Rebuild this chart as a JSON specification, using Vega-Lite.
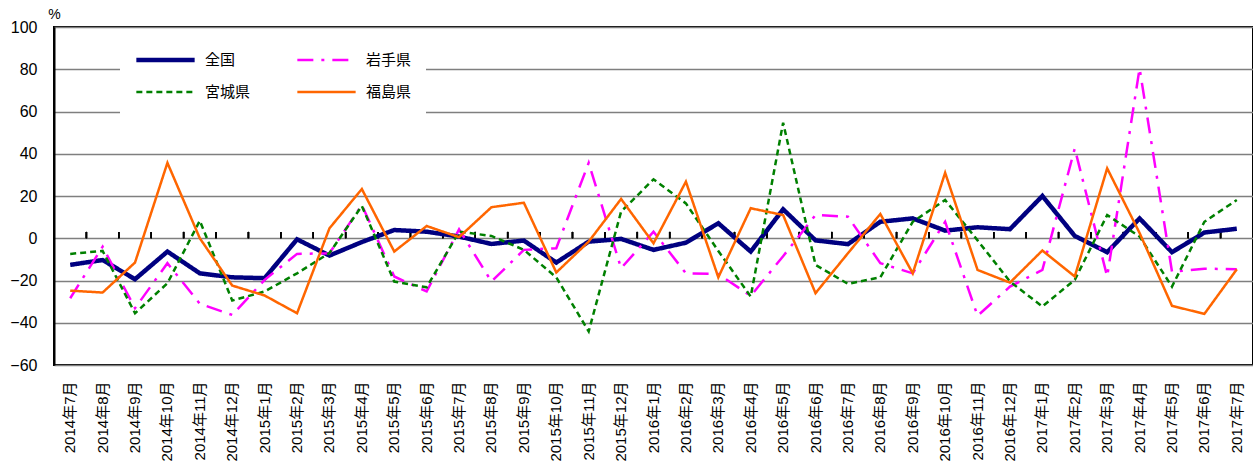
{
  "$schema": "https://vega.github.io/schema/vega-lite/v6.json",
  "autosize": "none",
  "width": 1199,
  "height": 338,
  "padding": {"left": 54, "top": 27, "right": 0, "bottom": 96},
  "background": "white",
  "config": {
    "view": {"stroke": "black", "strokeWidth": 2},
    "font": "'Liberation Sans', 'Noto Sans CJK JP', sans-serif"
  },
  "datasets": {
    "d": [
      {"m":"2014年7月","s":"全国","v":-12.6},{"m":"2014年8月","s":"全国","v":-10.3},{"m":"2014年9月","s":"全国","v":-19.4},{"m":"2014年10月","s":"全国","v":-6.3},{"m":"2014年11月","s":"全国","v":-16.6},{"m":"2014年12月","s":"全国","v":-18.5},
      {"m":"2015年1月","s":"全国","v":-18.9},{"m":"2015年2月","s":"全国","v":-0.5},{"m":"2015年3月","s":"全国","v":-8.2},{"m":"2015年4月","s":"全国","v":-1.8},{"m":"2015年5月","s":"全国","v":3.9},{"m":"2015年6月","s":"全国","v":3.1},
      {"m":"2015年7月","s":"全国","v":0.8},{"m":"2015年8月","s":"全国","v":-2.7},{"m":"2015年9月","s":"全国","v":-1.1},{"m":"2015年10月","s":"全国","v":-11.5},{"m":"2015年11月","s":"全国","v":-1.6},{"m":"2015年12月","s":"全国","v":-0.3},
      {"m":"2016年1月","s":"全国","v":-5.5},{"m":"2016年2月","s":"全国","v":-2.1},{"m":"2016年3月","s":"全国","v":7.1},{"m":"2016年4月","s":"全国","v":-6.3},{"m":"2016年5月","s":"全国","v":13.7},{"m":"2016年6月","s":"全国","v":-1.0},
      {"m":"2016年7月","s":"全国","v":-2.8},{"m":"2016年8月","s":"全国","v":7.8},{"m":"2016年9月","s":"全国","v":9.4},{"m":"2016年10月","s":"全国","v":3.6},{"m":"2016年11月","s":"全国","v":5.2},{"m":"2016年12月","s":"全国","v":4.3},
      {"m":"2017年1月","s":"全国","v":20.0},{"m":"2017年2月","s":"全国","v":1.1},{"m":"2017年3月","s":"全国","v":-6.6},{"m":"2017年4月","s":"全国","v":9.4},{"m":"2017年5月","s":"全国","v":-6.6},{"m":"2017年6月","s":"全国","v":2.7},{"m":"2017年7月","s":"全国","v":4.5},

      {"m":"2014年7月","s":"岩手県","v":-28.4},{"m":"2014年8月","s":"岩手県","v":-4.0},{"m":"2014年9月","s":"岩手県","v":-33.1},{"m":"2014年10月","s":"岩手県","v":-11.8},{"m":"2014年11月","s":"岩手県","v":-31.0},{"m":"2014年12月","s":"岩手県","v":-36.3},
      {"m":"2015年1月","s":"岩手県","v":-19.7},{"m":"2015年2月","s":"岩手県","v":-7.4},{"m":"2015年3月","s":"岩手県","v":-7.1},{"m":"2015年4月","s":"岩手県","v":15.7},{"m":"2015年5月","s":"岩手県","v":-18.1},{"m":"2015年6月","s":"岩手県","v":-25.2},
      {"m":"2015年7月","s":"岩手県","v":4.2},{"m":"2015年8月","s":"岩手県","v":-20.5},{"m":"2015年9月","s":"岩手県","v":-5.5},{"m":"2015年10月","s":"岩手県","v":-4.7},{"m":"2015年11月","s":"岩手県","v":35.7},{"m":"2015年12月","s":"岩手県","v":-14.2},
      {"m":"2016年1月","s":"岩手県","v":3.1},{"m":"2016年2月","s":"岩手県","v":-16.6},{"m":"2016年3月","s":"岩手県","v":-16.9},{"m":"2016年4月","s":"岩手県","v":-27.3},{"m":"2016年5月","s":"岩手県","v":-8.5},{"m":"2016年6月","s":"岩手県","v":11.0},
      {"m":"2016年7月","s":"岩手県","v":10.2},{"m":"2016年8月","s":"岩手県","v":-11.8},{"m":"2016年9月","s":"岩手県","v":-16.6},{"m":"2016年10月","s":"岩手県","v":7.8},{"m":"2016年11月","s":"岩手県","v":-36.7},{"m":"2016年12月","s":"岩手県","v":-22.9},
      {"m":"2017年1月","s":"岩手県","v":-15.0},{"m":"2017年2月","s":"岩手県","v":42.5},{"m":"2017年3月","s":"岩手県","v":-18.1},{"m":"2017年4月","s":"岩手県","v":80.4},{"m":"2017年5月","s":"岩手県","v":-15.8},{"m":"2017年6月","s":"岩手県","v":-14.4},{"m":"2017年7月","s":"岩手県","v":-14.7},

      {"m":"2014年7月","s":"宮城県","v":-7.4},{"m":"2014年8月","s":"宮城県","v":-6.0},{"m":"2014年9月","s":"宮城県","v":-35.5},{"m":"2014年10月","s":"宮城県","v":-21.3},{"m":"2014年11月","s":"宮城県","v":8.3},{"m":"2014年12月","s":"宮城県","v":-29.5},
      {"m":"2015年1月","s":"宮城県","v":-25.2},{"m":"2015年2月","s":"宮城県","v":-16.6},{"m":"2015年3月","s":"宮城県","v":-7.0},{"m":"2015年4月","s":"宮城県","v":15.3},{"m":"2015年5月","s":"宮城県","v":-20.5},{"m":"2015年6月","s":"宮城県","v":-23.2},
      {"m":"2015年7月","s":"宮城県","v":3.1},{"m":"2015年8月","s":"宮城県","v":1.1},{"m":"2015年9月","s":"宮城県","v":-5.5},{"m":"2015年10月","s":"宮城県","v":-18.5},{"m":"2015年11月","s":"宮城県","v":-44.1},{"m":"2015年12月","s":"宮城県","v":12.6},
      {"m":"2016年1月","s":"宮城県","v":27.9},{"m":"2016年2月","s":"宮城県","v":16.5},{"m":"2016年3月","s":"宮城県","v":-6.0},{"m":"2016年4月","s":"宮城県","v":-27.6},{"m":"2016年5月","s":"宮城県","v":54.7},{"m":"2016年6月","s":"宮城県","v":-12.6},
      {"m":"2016年7月","s":"宮城県","v":-21.6},{"m":"2016年8月","s":"宮城県","v":-18.5},{"m":"2016年9月","s":"宮城県","v":7.8},{"m":"2016年10月","s":"宮城県","v":18.1},{"m":"2016年11月","s":"宮城県","v":-1.0},{"m":"2016年12月","s":"宮城県","v":-20.5},
      {"m":"2017年1月","s":"宮城県","v":-32.3},{"m":"2017年2月","s":"宮城県","v":-19.7},{"m":"2017年3月","s":"宮城県","v":11.0},{"m":"2017年4月","s":"宮城県","v":0.8},{"m":"2017年5月","s":"宮城県","v":-22.9},{"m":"2017年6月","s":"宮城県","v":7.8},{"m":"2017年7月","s":"宮城県","v":18.1},

      {"m":"2014年7月","s":"福島県","v":-24.8},{"m":"2014年8月","s":"福島県","v":-25.7},{"m":"2014年9月","s":"福島県","v":-11.5},{"m":"2014年10月","s":"福島県","v":35.7},{"m":"2014年11月","s":"福島県","v":0.0},{"m":"2014年12月","s":"福島県","v":-22.4},
      {"m":"2015年1月","s":"福島県","v":-27.1},{"m":"2015年2月","s":"福島県","v":-35.5},{"m":"2015年3月","s":"福島県","v":4.7},{"m":"2015年4月","s":"福島県","v":23.3},{"m":"2015年5月","s":"福島県","v":-6.3},{"m":"2015年6月","s":"福島県","v":5.8},
      {"m":"2015年7月","s":"福島県","v":0.5},{"m":"2015年8月","s":"福島県","v":14.7},{"m":"2015年9月","s":"福島県","v":16.8},{"m":"2015年10月","s":"福島県","v":-16.2},{"m":"2015年11月","s":"福島県","v":-1.6},{"m":"2015年12月","s":"福島県","v":18.6},
      {"m":"2016年1月","s":"福島県","v":-2.4},{"m":"2016年2月","s":"福島県","v":26.8},{"m":"2016年3月","s":"福島県","v":-18.5},{"m":"2016年4月","s":"福島県","v":14.2},{"m":"2016年5月","s":"福島県","v":11.0},{"m":"2016年6月","s":"福島県","v":-26.0},
      {"m":"2016年7月","s":"福島県","v":-7.1},{"m":"2016年8月","s":"福島県","v":11.5},{"m":"2016年9月","s":"福島県","v":-16.6},{"m":"2016年10月","s":"福島県","v":31.0},{"m":"2016年11月","s":"福島県","v":-15.0},{"m":"2016年12月","s":"福島県","v":-21.0},
      {"m":"2017年1月","s":"福島県","v":-5.8},{"m":"2017年2月","s":"福島県","v":-18.1},{"m":"2017年3月","s":"福島県","v":33.1},{"m":"2017年4月","s":"福島県","v":2.5},{"m":"2017年5月","s":"福島県","v":-32.0},{"m":"2017年6月","s":"福島県","v":-35.8},{"m":"2017年7月","s":"福島県","v":-14.7}
    ]
  },
  "data": {"name": "d"},
  "encoding": {
    "x": {
      "field": "m", "type": "ordinal", "sort": null, "title": null,
      "scale": {"paddingInner": 0, "paddingOuter": 0},
      "axis": {"labelAngle": -90, "labelAlign": "right", "labelBaseline": "middle", "labelFontSize": 15, "labelColor": "black", "labelPadding": 16, "ticks": false, "domain": false, "grid": false}
    }
  },
  "layer": [
    {
      "mark": {"type": "rule", "color": "black", "strokeWidth": 2},
      "encoding": {"y": {"datum": 0, "type": "quantitative"}}
    },
    {
      "mark": {"type": "rule", "color": "black", "strokeWidth": 1.5},
      "encoding": {
        "x": {"field": "m", "type": "ordinal", "sort": null, "bandPosition": 0},
        "y": {"datum": 0, "type": "quantitative"},
        "y2": {"datum": 3}
      }
    },
    {
      "mark": {"type": "line", "strokeJoin": "miter", "strokeCap": "butt"},
      "encoding": {
        "y": {
          "field": "v", "type": "quantitative",
          "scale": {"domain": [-60, 100], "nice": false, "zero": false},
          "axis": {
            "values": [-60, -40, -20, 0, 20, 40, 60, 80, 100], "format": "d",
            "title": "%", "titleAngle": 0, "titleX": 0, "titleY": -13, "titleAlign": "center", "titleBaseline": "middle", "titleFontSize": 14, "titleFontWeight": "normal", "titleColor": "black",
            "labelFontSize": 16, "labelColor": "black", "labelPadding": 17, "ticks": false,
            "domain": true, "domainColor": "black", "domainWidth": 2,
            "grid": true, "gridColor": "#7f7f7f", "gridWidth": 1.5
          }
        },
        "color": {
          "field": "s", "type": "nominal",
          "scale": {"domain": ["全国", "岩手県", "宮城県", "福島県"], "range": ["#000080", "#ff00ff", "#008000", "#ff6600"]},
          "legend": {
            "title": null, "orient": "none", "legendX": 66, "legendY": 11, "columns": 2, "direction": "horizontal", "columnPadding": 44, "rowPadding": 16,
            "values": ["全国", "岩手県", "宮城県", "福島県"],
            "symbolType": "stroke", "symbolSize": 3400, "clipHeight": 16, "labelFontSize": 15, "labelColor": "black", "labelOffset": 8,
            "fillColor": "white", "padding": 14
          }
        },
        "strokeDash": {
          "field": "s", "type": "nominal",
          "scale": {"domain": ["全国", "岩手県", "宮城県", "福島県"], "range": [[1, 0], [16, 8, 3, 8], [6, 4], [1, 0]]}
        },
        "strokeWidth": {
          "field": "s", "type": "nominal",
          "scale": {"type": "ordinal", "domain": ["全国", "岩手県", "宮城県", "福島県"], "range": [4.5, 2.5, 2.5, 2.5]}
        }
      }
    }
  ]
}
